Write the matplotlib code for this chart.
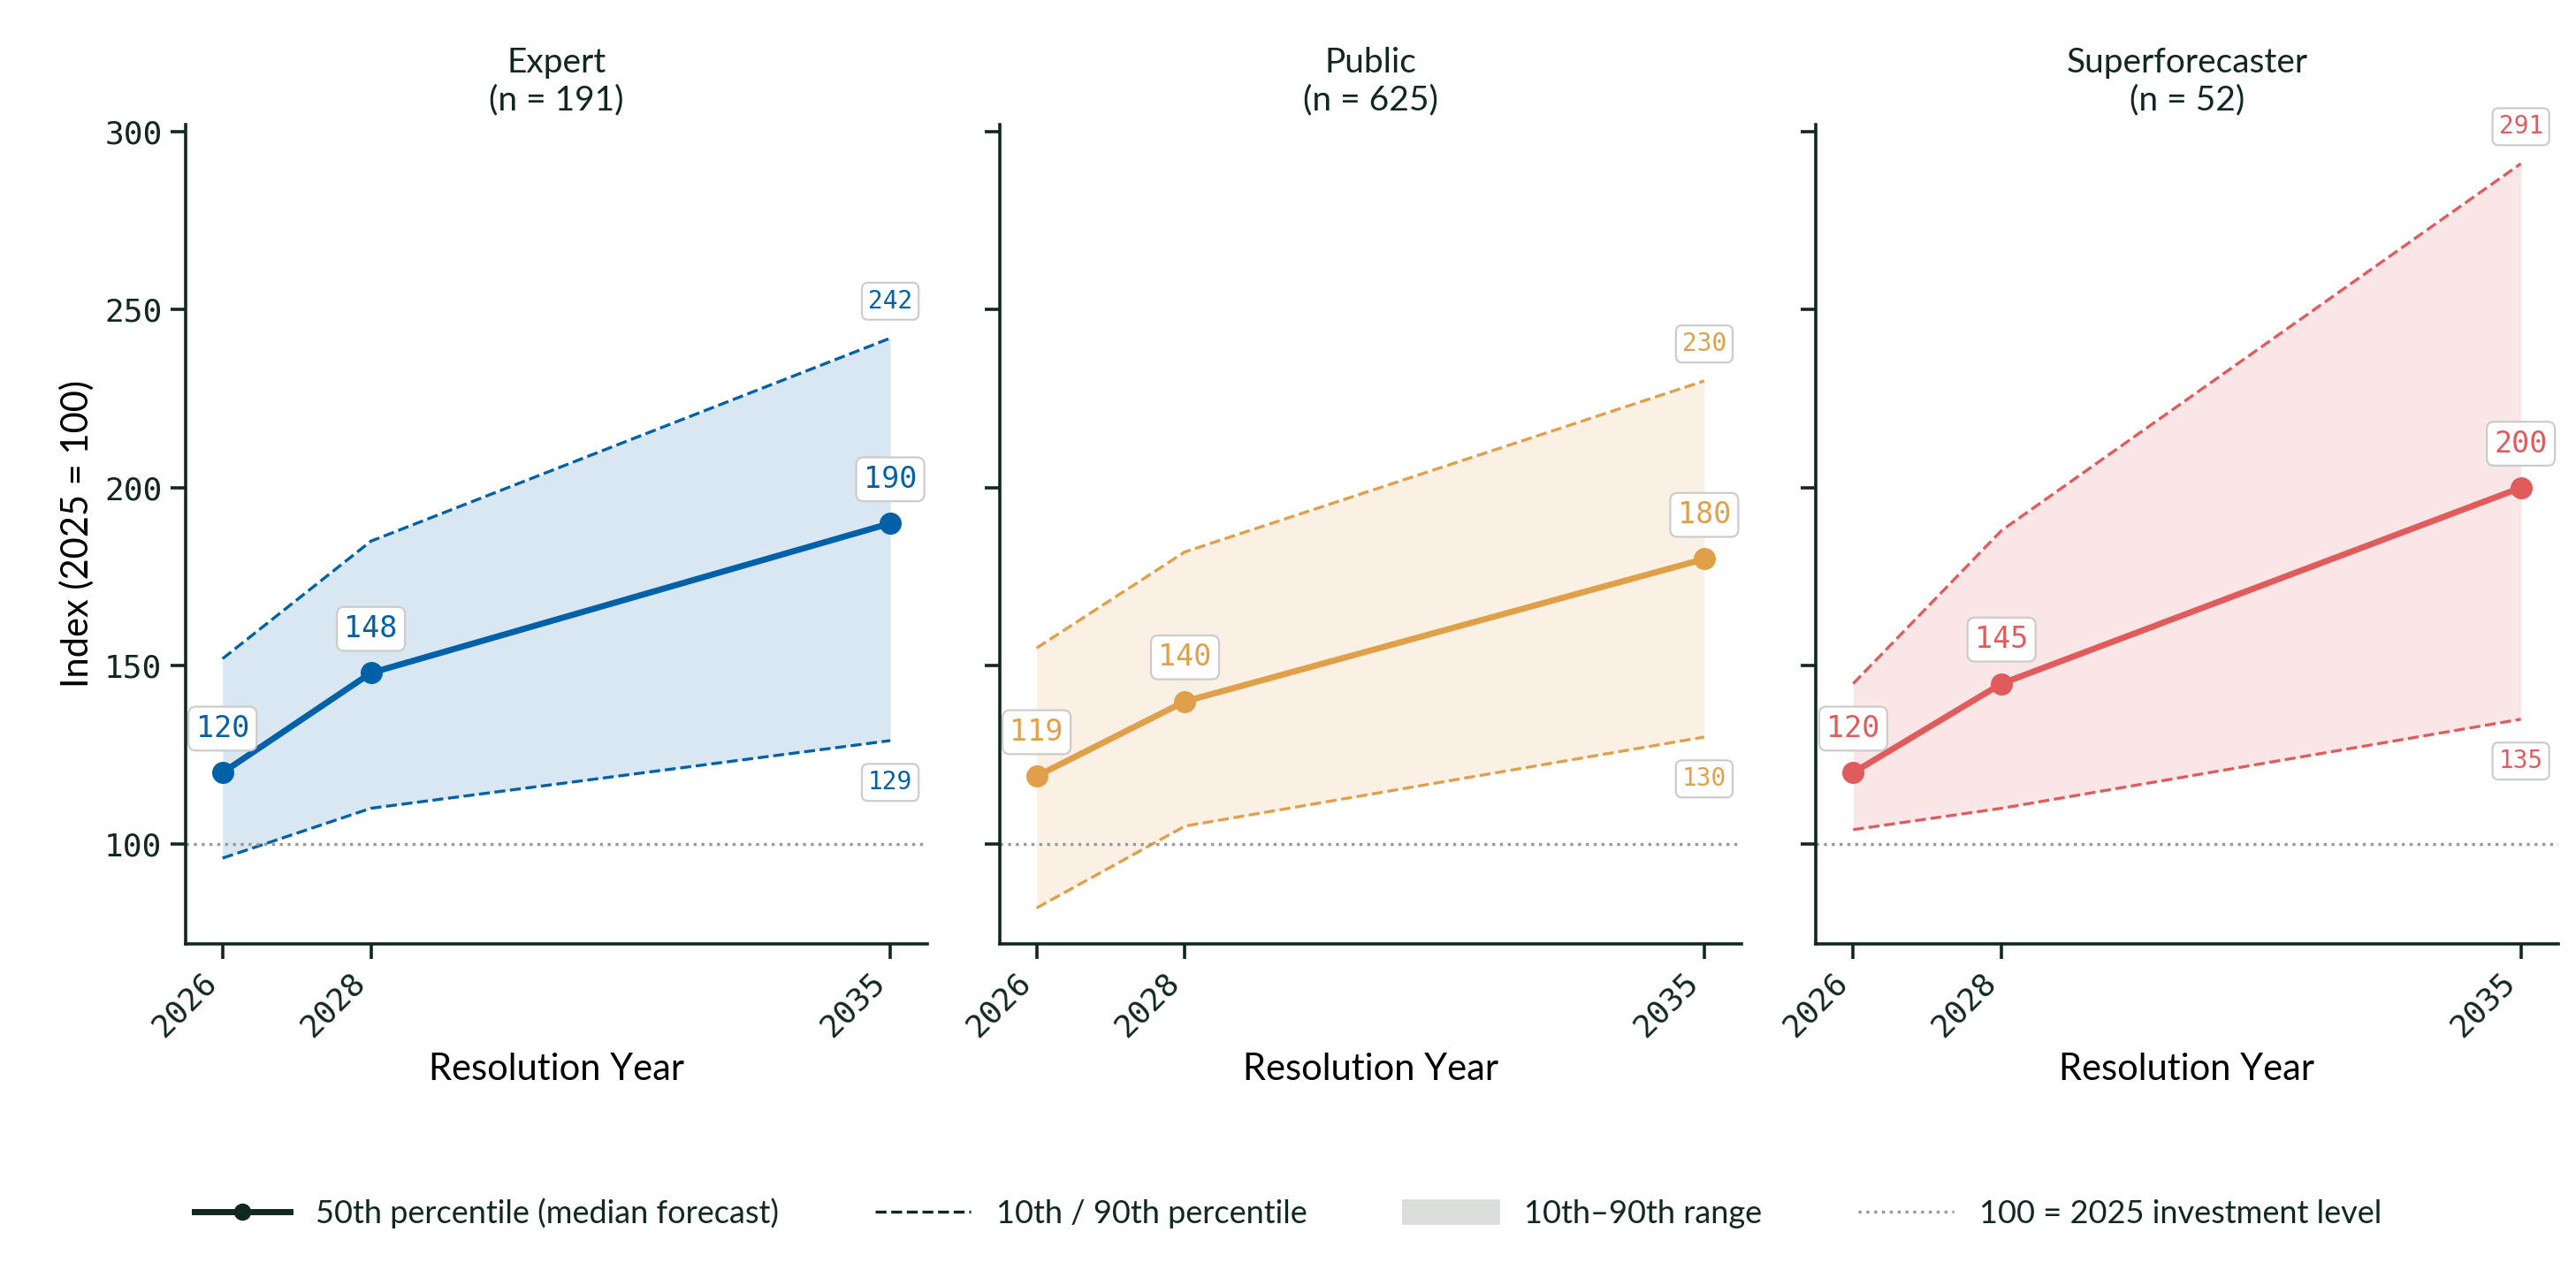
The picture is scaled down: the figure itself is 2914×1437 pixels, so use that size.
import matplotlib.pyplot as plt
from matplotlib.lines import Line2D
from matplotlib.patches import Patch

years = [2026, 2028, 2035]
groups = ["Expert", "Public", "Superforecaster"]
counts = [191, 625, 52]
median = {"Expert": [120, 148, 190], "Public": [119, 140, 180], "Superforecaster": [120, 145, 200]}
p10 = {"Expert": [96, 110, 129], "Public": [82, 105, 130], "Superforecaster": [104, 110, 135]}
p90 = {"Expert": [152, 185, 242], "Public": [155, 182, 230], "Superforecaster": [145, 188, 291]}
colors = {"Expert": "#0060A8", "Public": "#E0A04A", "Superforecaster": "#E05C5C"}

dark = "#10281f"
plt.rcParams["font.family"] = ["Lato", "DejaVu Sans"]
plt.rcParams["text.color"] = dark
plt.rcParams["axes.edgecolor"] = dark
plt.rcParams["xtick.color"] = dark
plt.rcParams["ytick.color"] = dark

fig = plt.figure(figsize=(14.57, 7.185), dpi=200)
lefts = [0.072, 0.388, 0.705]
axes = []
for i, g in enumerate(groups):
    ax = fig.add_axes([lefts[i], 0.257, 0.288, 0.645], sharey=axes[0] if axes else None)
    axes.append(ax)
    c = colors[g]
    ax.fill_between(years, p10[g], p90[g], color=c, alpha=0.15, lw=0)
    ax.plot(years, p10[g], "--", color=c, lw=1.2)
    ax.plot(years, p90[g], "--", color=c, lw=1.2)
    ax.plot(years, median[g], "-o", color=c, lw=2.5, ms=8)
    ax.axhline(100, color="#999999", ls=":", lw=1.2)
    box = dict(boxstyle="round,pad=0.25", fc="white", ec="#cccccc", lw=0.8)
    for x, y in zip(years, median[g]):
        ax.annotate(f"{y}", (x, y), xytext=(0, 12), textcoords="offset points", ha="center",
                    va="bottom", color=c, fontsize=12, family="DejaVu Sans Mono", bbox=box)
    ax.annotate(f"{p90[g][-1]}", (years[-1], p90[g][-1]), xytext=(0, 10), textcoords="offset points",
                ha="center", va="bottom", color=c, fontsize=10, family="DejaVu Sans Mono", bbox=box)
    ax.annotate(f"{p10[g][-1]}", (years[-1], p10[g][-1]), xytext=(0, -12), textcoords="offset points",
                ha="center", va="top", color=c, fontsize=10, family="DejaVu Sans Mono", bbox=box)
    ax.set_title(f"{g}\n(n = {counts[i]})", fontsize=14, color=dark)
    ax.set_xticks(years)
    ax.set_xticklabels([str(y) for y in years], rotation=45, ha="right",
                       family="DejaVu Sans Mono", fontsize=13)
    ax.set_xlim(2025.5, 2035.5)
    ax.set_xlabel("Resolution Year", fontsize=15)
    for s in ["top", "right"]:
        ax.spines[s].set_visible(False)
    ax.spines["left"].set_linewidth(1.3)
    ax.spines["bottom"].set_linewidth(1.3)
    ax.tick_params(length=6, width=1.3)
    if i > 0:
        ax.tick_params(labelleft=False)
axes[0].set_ylim(72, 302)
axes[0].set_yticks([100, 150, 200, 250, 300])
for lab in axes[0].get_yticklabels():
    lab.set_family("DejaVu Sans Mono")
    lab.set_fontsize(13)
axes[0].set_ylabel("Index (2025 = 100)", fontsize=15)

handles = [
    Line2D([], [], color=dark, lw=2.5, marker="o", ms=6),
    Line2D([], [], color=dark, ls="--", lw=1.2),
    Patch(color="#d9dedb"),
    Line2D([], [], color="#999999", ls=":", lw=1.2),
]
labels = ["50th percentile (median forecast)", "10th / 90th percentile", "10th\u201390th range",
          "100 = 2025 investment level"]
fig.legend(handles, labels, loc="center", bbox_to_anchor=(0.5, 0.045), ncol=4, frameon=False,
           fontsize=13, handlelength=3, columnspacing=3)
fig.savefig("out.png", dpi=200)
